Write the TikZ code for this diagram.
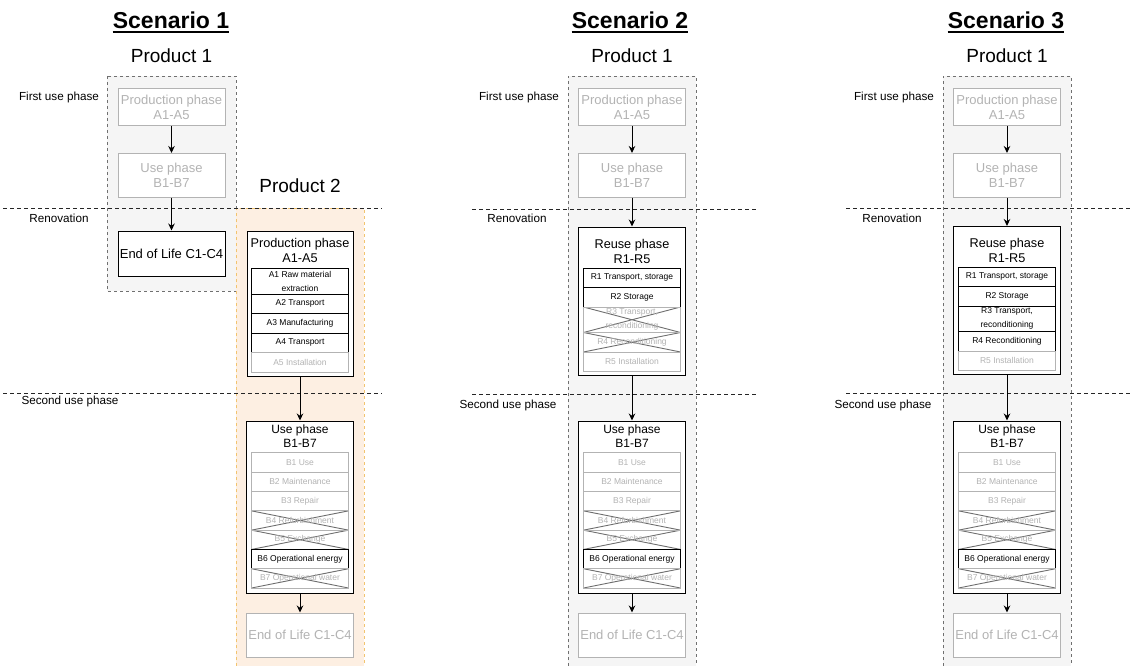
\documentclass[tikz,border=0pt]{standalone}
\usepackage{fontspec}
\setmainfont{Liberation Sans}
\usetikzlibrary{arrows.meta,calc}

\definecolor{offgray}{HTML}{B3B3B3}
\definecolor{crossgray}{HTML}{6E6E6E}
\definecolor{bandfill}{HTML}{F5F5F5}
\definecolor{bandline}{HTML}{707070}
\definecolor{orangefill}{HTML}{FDEFE2}
\definecolor{orangeline}{HTML}{F2C46F}

% Use phase B1-B7 with its modules and the end-of-life box below it
\newcommand\usestack[2]{%
  \node[container, minimum height=172pt] (#1u) at (#2,507) {};
  \node[ctitle, font=\fontsize{12}{14}\selectfont] (#1ut) at (#2,436) {Use phase\\B1-B7};
  \node[offrow]   (#1b1) at (#2,462.64) {B1 Use};
  \node[offrow]   (#1b2) at (#2,481.93) {B2 Maintenance};
  \node[offrow]   (#1b3) at (#2,501.21) {B3 Repair};
  \node[crossrow] (#1b4) at (#2,520.50) {B4 Refurbishment};
  \node[crossrow] (#1b5) at (#2,539.79) {B5 Exchange};
  \node[keyrow]   (#1b6) at (#2,559.07) {B6 Operational energy};
  \node[crossrow] (#1b7) at (#2,578.36) {B7 Operational water};
  \node[offbox, minimum height=44pt] (#1e) at (#2,635) {End of Life C1-C4};
  \draw[arr] (#1u) -- (#1e);
}

% First-use production and use boxes of product 1
\newcommand\firstuse[2]{%
  \node[offbox, minimum height=36.5pt] (#1pa) at (#2,107.25) {Production phase\\A1-A5};
  \node[offbox, minimum height=43.5pt] (#1pb) at (#2,175.25) {Use phase\\B1-B7};
  \draw[arr] (#1pa) -- (#1pb);
}

\begin{document}
\begin{tikzpicture}[x=1pt,y=-1pt,
  every node/.style={inner sep=0pt},
  scen/.style={font=\fontsize{23}{26}\selectfont\bfseries, anchor=base},
  prod/.style={font=\fontsize{19}{22}\selectfont, anchor=base},
  lab/.style={font=\fontsize{11.7}{14}\selectfont},
  offbox/.style={draw=offgray, text=offgray, fill=white, line width=1pt,
    minimum width=107pt, align=center, font=\fontsize{13}{15}\selectfont},
  onbox/.style={offbox, draw=black, text=black},
  container/.style={draw=black, fill=white, line width=1pt, minimum width=107pt},
  ctitle/.style={align=center, font=\fontsize{12.7}{15}\selectfont},
  row/.style={draw=black, line width=1pt, minimum width=97pt, minimum height=19.5pt,
    align=center, font=\fontsize{8.5}{14}\selectfont},
  offrow/.style={row, draw=offgray, text=offgray, minimum height=19.29pt},
  crossrow/.style={offrow, path picture={
      \draw[crossgray, line width=0.9pt]
        (path picture bounding box.north west) -- (path picture bounding box.south east)
        (path picture bounding box.south west) -- (path picture bounding box.north east);}},
  keyrow/.style={row, line width=1.4pt, text=black, minimum height=19.29pt},
  arr/.style={-{Stealth[length=7pt,width=6.5pt]}, line width=1pt, black},
  sep/.style={draw=black!85, line width=0.8pt, dash pattern=on 3.5pt off 3.5pt},
  band/.style={draw=bandline, line width=0.8pt, dash pattern=on 3pt off 3pt},
]
\useasboundingbox (0,0) rectangle (1130,666);

% ---------- product bands ----------
\fill[bandfill] (107,76) rectangle (236,291);
\draw[band] (107,76) rectangle (236,291);
\fill[orangefill] (236,208) rectangle (364,666);
\draw[band, draw=orangeline] (236,666) -- (236,208) -- (364,208) -- (364,666);
\fill[bandfill] (568,76) rectangle (696,666);
\draw[band] (568,666) -- (568,76) -- (696,76) -- (696,666);
\fill[bandfill] (943,76) rectangle (1071,666);
\draw[band] (943,666) -- (943,76) -- (1071,76) -- (1071,666);

% ---------- phase separators ----------
\draw[sep] (3,208) -- (382,208);
\draw[sep] (3,393) -- (382,393);
\draw[sep] (472,209) -- (758,209);
\draw[sep] (472,394) -- (758,394);
\draw[sep] (846,208) -- (1130,208);
\draw[sep] (846,393) -- (1130,393);

% ---------- titles ----------
\node[scen] (s1t) at (171,28.5) {Scenario 1};
\node[scen] (s2t) at (630,28.5) {Scenario 2};
\node[scen] (s3t) at (1006,28.5) {Scenario 3};
\foreach \t in {s1t,s2t,s3t}
  \draw[line width=1.6pt] ($(\t.base west)+(0,3.6)$) -- ($(\t.base east)+(0,3.6)$);

\node[prod] (s1p1) at (171.5,63) {Product 1};
\node[prod] (s1p2) at (300,193) {Product 2};
\node[prod] (s2p1) at (632,63) {Product 1};
\node[prod] (s3p1) at (1007,63) {Product 1};

% ---------- phase labels ----------
\node[lab] (s1l1) at (59,97) {First use phase};
\node[lab] (s1l2) at (59,218) {Renovation};
\node[lab] (s1l3) at (70,401) {Second use phase};
\node[lab] (s2l1) at (519,97) {First use phase};
\node[lab] (s2l2) at (517,218) {Renovation};
\node[lab] (s2l3) at (508,405) {Second use phase};
\node[lab] (s3l1) at (894,97) {First use phase};
\node[lab] (s3l2) at (892,218) {Renovation};
\node[lab] (s3l3) at (883,405) {Second use phase};

% ---------- Scenario 1 ----------
\firstuse{s1}{171.5}
\node[onbox, minimum height=45pt] (s1c) at (171.5,253.5) {End of Life C1-C4};
\draw[arr] (s1pb) -- (s1c);

\node[container, minimum height=145pt, minimum width=106pt] (s1pp) at (300,303.5) {};
\node[ctitle] (s1ppt) at (300,250.5) {Production phase\\A1-A5};
\node[row, minimum height=26pt] (s1a1) at (300,281) {A1 Raw material\\extraction};
\node[row] (s1a2) at (300,303.75) {A2 Transport};
\node[row] (s1a3) at (300,323.25) {A3 Manufacturing};
\node[row] (s1a4) at (300,342.75) {A4 Transport};
\node[offrow, minimum height=19.5pt] (s1a5) at (300,362.25) {A5 Installation};
\usestack{s1}{300}
\draw[arr] (s1pp) -- (s1u);

% ---------- Scenario 2 ----------
\firstuse{s2}{632}
\node[container, minimum height=148pt] (s2r) at (632,301) {};
\node[ctitle] (s2rt) at (632,251.5) {Reuse phase\\R1-R5};
\node[row] (s2r1) at (632,277.75) {R1 Transport, storage};
\node[row] (s2r2) at (632,297.25) {R2 Storage};
\node[crossrow, minimum height=25.5pt] (s2r3) at (632,319.75) {R3 Transport,\\reconditioning};
\node[crossrow, minimum height=19.5pt] (s2r4) at (632,342.25) {R4 Reconditioning};
\node[offrow, minimum height=19.5pt] (s2r5) at (632,361.75) {R5 Installation};
\draw[arr] (s2pb) -- (s2r);
\usestack{s2}{632}
\draw[arr] (s2r) -- (s2u);

% ---------- Scenario 3 ----------
\firstuse{s3}{1007}
\node[container, minimum height=148pt] (s3r) at (1007,300.5) {};
\node[ctitle] (s3rt) at (1007,250.5) {Reuse phase\\R1-R5};
\node[row] (s3r1) at (1007,276.75) {R1 Transport, storage};
\node[row] (s3r2) at (1007,296.25) {R2 Storage};
\node[row, minimum height=25.5pt] (s3r3) at (1007,318.75) {R3 Transport,\\reconditioning};
\node[row] (s3r4) at (1007,341.25) {R4 Reconditioning};
\node[offrow, minimum height=19.5pt] (s3r5) at (1007,360.75) {R5 Installation};
\draw[arr] (s3pb) -- (s3r);
\usestack{s3}{1007}
\draw[arr] (s3r) -- (s3u);
\end{tikzpicture}
\end{document}
